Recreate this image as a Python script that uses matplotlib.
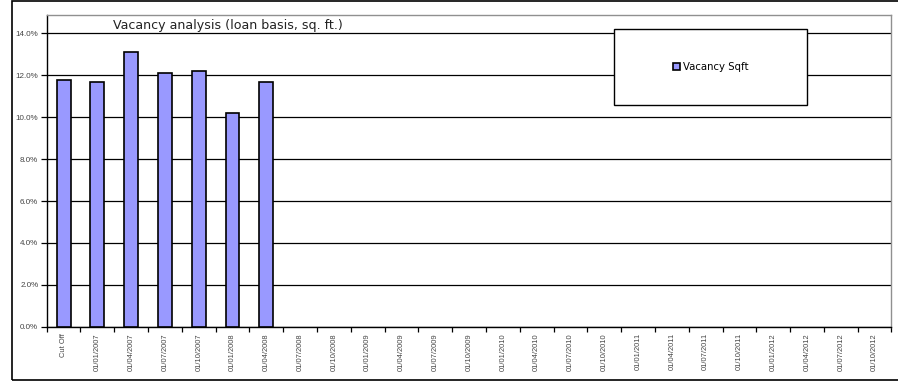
import matplotlib.pyplot as plt
from matplotlib.patches import Rectangle
from matplotlib.ticker import FuncFormatter, MultipleLocator

categories = ["Cut Off"] + [
    f"01/{m:02d}/{y}" for y in range(2007, 2013) for m in (1, 4, 7, 10)
]
vacancy = [11.79, 11.68, 13.09, 12.12, 12.20, 10.22, 11.68]

W, H = 898, 381
fig = plt.figure(figsize=(W / 100, H / 100), dpi=100)
fig.patch.set_facecolor("white")


def box(x0, y0, x1, y1):
    # pixel box (top-left origin) -> figure fraction rect
    return [x0 / W, 1 - y1 / H, (x1 - x0) / W, (y1 - y0) / H]


# outer chart frame
l, b, w, h = box(12, 1, 910, 380)
fig.add_artist(Rectangle((l, b), w, h, transform=fig.transFigure, fill=False,
                         edgecolor="black", linewidth=1.2))

ax = fig.add_axes(box(46.7, 15, 891.5, 326.7))

x = list(range(len(categories)))
ax.bar(x[:len(vacancy)], vacancy, width=0.41, color="#9999ff",
       edgecolor="black", linewidth=1.2, label="Vacancy Sqft", zorder=3)

ax.set_xlim(-0.5, len(categories) - 0.5)
ax.set_ylim(0, 14.88)
ax.yaxis.set_major_locator(MultipleLocator(2))
ax.yaxis.set_major_formatter(FuncFormatter(lambda v, _: f"{v:.1f}%"))
ax.grid(axis="y", color="black", linewidth=0.9, zorder=1)

ax.set_xticks(x)
ax.set_xticklabels(categories, rotation=90, fontsize=5.4, color="#444444",
                   family="Liberation Sans")
ax.set_xticks([i - 0.5 for i in range(len(categories) + 1)], minor=True)
ax.tick_params(axis="x", which="major", length=0, pad=4.5)
ax.tick_params(axis="x", which="minor", length=3.5, width=0.9, direction="out")
ax.tick_params(axis="y", length=4, width=0.9, labelsize=5.8, labelcolor="#444444", pad=2)
for lbl in ax.get_yticklabels():
    lbl.set_family("Liberation Sans")

for side in ("top", "right"):
    ax.spines[side].set_color("#909090")
    ax.spines[side].set_linewidth(1.0)
for side in ("left", "bottom"):
    ax.spines[side].set_color("black")
    ax.spines[side].set_linewidth(1.0)

fig.text(113 / W, 1 - 26 / H, "Vacancy analysis (loan basis, sq. ft.)",
         fontsize=9.1, va="center", ha="left", color="#222222")

# legend panel
l, b, w, h = box(614, 29, 807, 105)
fig.add_artist(Rectangle((l, b), w, h, transform=fig.transFigure, facecolor="white",
                         edgecolor="black", linewidth=1.0, zorder=5))
leg = ax.legend(loc="center", bbox_to_anchor=(710.5 / W, 1 - 67 / H),
                bbox_transform=fig.transFigure, frameon=False,
                fontsize=7.3, handlelength=0.7, handleheight=0.7, handletextpad=0.3,
                borderpad=0)
leg.set_zorder(6)
fig.add_artist(leg)

fig.savefig("out.png", dpi=100)
